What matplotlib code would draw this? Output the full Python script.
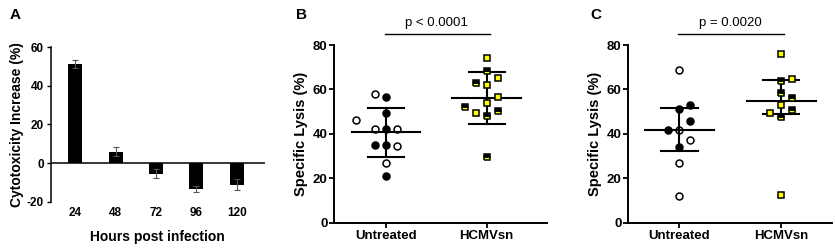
import numpy as np
import matplotlib
matplotlib.use("Agg")
import matplotlib.pyplot as plt

plt.rcParams["font.family"] = ["Liberation Sans", "DejaVu Sans"]
plt.rcParams["axes.unicode_minus"] = False

# ─── Data ───
# Panel A: cytotoxicity increase over time
hours = ["24", "48", "72", "96", "120"]
cyto_mean = [51.5, 6.0, -5.5, -13.3, -11.1]
cyto_err = [2.0, 2.1, 2.2, 1.6, 2.8]

groups = ["Untreated", "HCMVsn"]

# Panel B: specific lysis (mean ± SD)
b_unt_open = [58.0, 46.2, 42.2, 42.2, 34.7, 26.7]
b_unt_filled = [56.6, 49.2, 42.2, 35.0, 35.0, 21.2]
b_hcmv_full = [74.0, 62.0, 65.3, 56.6, 54.1, 49.2]
b_hcmv_half = [68.3, 63.1, 52.3, 48.2, 50.5, 29.4]
b_pval = "p < 0.0001"

# Panel C: specific lysis (median with IQR)
c_unt_open = [68.9, 41.6, 37.4, 26.7, 12.0]
c_unt_filled = [51.0, 52.9, 45.8, 41.9, 34.2]
c_hcmv_full = [76.1, 64.9, 52.9, 49.2, 12.7]
c_hcmv_half = [63.8, 58.4, 56.3, 50.6, 47.4]
c_pval = "p = 0.0020"

# horizontal jitter for the scatter points (layout only, category units)
b_unt_open_dx = [-0.11, -0.30, -0.11, 0.11, 0.11, 0.0]
b_unt_filled_dx = [0.0, 0.0, 0.0, -0.11, 0.0, 0.0]
b_hcmv_full_dx = [0.0, 0.0, 0.11, 0.11, 0.0, -0.11]
b_hcmv_half_dx = [0.0, -0.11, -0.21, 0.0, 0.11, 0.0]
c_unt_open_dx = [0.0, 0.0, 0.105, 0.0, 0.0]
c_unt_filled_dx = [0.0, 0.105, 0.105, -0.108, 0.0]
c_hcmv_full_dx = [0.0, 0.105, 0.0, -0.108, 0.0]
c_hcmv_half_dx = [0.0, 0.0, 0.105, 0.105, 0.0]

YELLOW = "#FFFF00"

fig = plt.figure(figsize=(8.35, 2.49), dpi=100)

# ─── Panel A ───
axA = fig.add_axes([0.0607, 0.19, 0.2566, 0.62])
x = np.arange(len(hours))
axA.bar(x, cyto_mean, width=0.35, color="black", zorder=2)
axA.errorbar(x, cyto_mean, yerr=cyto_err, fmt="none", ecolor="#555555",
             elinewidth=0.8, capsize=2.2, capthick=0.8, zorder=3)
axA.axhline(0, color="black", lw=1.1, zorder=1)
axA.set_xlim(-0.61, 4.70)
axA.set_ylim(-20, 60)
axA.set_yticks([-20, 0, 20, 40, 60])
axA.set_xticks(x)
axA.set_xticklabels(hours, fontsize=8.5, fontweight="bold")
axA.tick_params(axis="x", length=0, pad=4)
axA.tick_params(axis="y", length=3, width=1.0, labelsize=8.5, pad=2)
for t in axA.get_yticklabels():
    t.set_fontweight("bold")
for s in ["top", "right", "bottom"]:
    axA.spines[s].set_visible(False)
axA.spines["left"].set_linewidth(1.1)
axA.set_ylabel("Cytotoxicity Increase (%)", fontsize=10, fontweight="bold", labelpad=2)
axA.set_xlabel("Hours post infection", fontsize=10, fontweight="bold", labelpad=8)
fig.text(0.012, 0.94, "A", fontsize=11, fontweight="bold", va="center")


def scatter_panel(ax, unt_open, unt_open_dx, unt_filled, unt_filled_dx,
                  hcmv_full, hcmv_full_dx, hcmv_half, hcmv_half_dx, summary):
    ms = 5.0
    ax.plot(unt_open_dx, unt_open, "o", ms=ms, mfc="none",
            mec="black", mew=1.1, zorder=4, clip_on=False)
    ax.plot(unt_filled_dx, unt_filled, "o", ms=ms, mfc="black",
            mec="black", mew=1.1, zorder=4, clip_on=False)
    ax.plot(1 + np.array(hcmv_full_dx), hcmv_full, "s", ms=ms, mfc=YELLOW,
            mec="black", mew=1.1, zorder=4, clip_on=False)
    ax.plot(1 + np.array(hcmv_half_dx), hcmv_half, "s", ms=ms, mfc=YELLOW,
            mfcalt="black", fillstyle="bottom", mec="black", mew=1.1,
            zorder=4, clip_on=False)
    for i, vals in enumerate([unt_open + unt_filled, hcmv_full + hcmv_half]):
        mid, lo, hi = summary(np.array(vals))
        ax.plot([i - 0.34, i + 0.34], [mid, mid], color="black", lw=1.5, zorder=3)
        ax.plot([i - 0.18, i + 0.18], [lo, lo], color="black", lw=1.5, zorder=3)
        ax.plot([i - 0.18, i + 0.18], [hi, hi], color="black", lw=1.5, zorder=3)
        ax.plot([i, i], [lo, hi], color="black", lw=1.5, zorder=3)
    ax.set_ylim(0, 80)
    ax.set_yticks([0, 20, 40, 60, 80])
    ax.set_xticks([0, 1])
    ax.set_xticklabels(groups, fontsize=9.5, fontweight="bold")
    for t in ax.get_yticklabels():
        t.set_fontweight("bold")
    ax.tick_params(axis="both", length=3.5, width=1.3, labelsize=9.5, pad=1.5)
    for s in ["top", "right"]:
        ax.spines[s].set_visible(False)
    for s in ["left", "bottom"]:
        ax.spines[s].set_linewidth(1.4)
    ax.set_ylabel("Specific Lysis (%)", fontsize=10.5, fontweight="bold", labelpad=3)


def mean_sd(v):
    m, s = v.mean(), v.std(ddof=1)
    return m, m - s, m + s


def median_iqr(v):
    q1, med, q3 = np.percentile(v, [25, 50, 75], method="weibull")
    return med, q1, q3


# ─── Panel B ───
axB = fig.add_axes([0.4004, 0.1056, 0.2547, 0.7133])
scatter_panel(axB, b_unt_open, b_unt_open_dx, b_unt_filled, b_unt_filled_dx,
              b_hcmv_full, b_hcmv_full_dx, b_hcmv_half, b_hcmv_half_dx, mean_sd)
axB.set_xlim(-0.513, 1.6)
axB.plot([-0.01, 1.03], [85, 85], color="black", lw=1.0, clip_on=False)
axB.text(0.5, 89.8, b_pval, ha="center", va="center", fontsize=9.5)
fig.text(0.3545, 0.94, "B", fontsize=11, fontweight="bold", va="center")

# ─── Panel C ───
axC = fig.add_axes([0.7525, 0.1056, 0.2440, 0.7133])
scatter_panel(axC, c_unt_open, c_unt_open_dx, c_unt_filled, c_unt_filled_dx,
              c_hcmv_full, c_hcmv_full_dx, c_hcmv_half, c_hcmv_half_dx, median_iqr)
axC.set_xlim(-0.50, 1.5)
axC.plot([-0.01, 1.03], [85, 85], color="black", lw=1.0, clip_on=False)
axC.text(0.5, 89.8, c_pval, ha="center", va="center", fontsize=9.5)
fig.text(0.7075, 0.94, "C", fontsize=11, fontweight="bold", va="center")

plt.savefig("out.png", dpi=100)
